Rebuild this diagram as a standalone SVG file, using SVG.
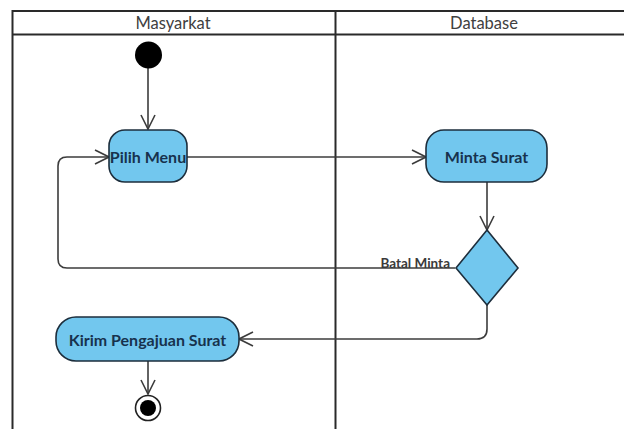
<svg xmlns="http://www.w3.org/2000/svg" width="624" height="429" viewBox="0 0 624 429">
<style>
.lane{stroke:#2a2a2a;stroke-width:2;fill:none}
.hdr{font-family:Lato,"Carlito","Liberation Sans",sans-serif;font-size:16.5px;fill:#404040;text-anchor:middle}
.act{fill:#72c7ee;stroke:#1d2e3c;stroke-width:1.6}
.lbl{font-family:Lato,"Liberation Sans",sans-serif;font-size:16px;font-weight:bold;fill:#17324d;text-anchor:middle}
.edge{fill:none;stroke:#3c3c3c;stroke-width:1.6}
.guard{font-family:Lato,"Liberation Sans",sans-serif;font-size:13.5px;font-weight:bold;fill:#3a3a3a;text-anchor:end}
</style>
<defs>
<marker id="arr" viewBox="0 0 16 16" refX="15" refY="8" markerWidth="16" markerHeight="16" markerUnits="userSpaceOnUse" orient="auto">
<path d="M1,1 L15,8 L1,15" fill="none" stroke="#3c3c3c" stroke-width="1.6"/>
</marker>
</defs>
<rect width="624" height="429" fill="#ffffff"/>
<g id="swimlanes">
<line class="lane" x1="12" y1="11" x2="624" y2="11" stroke="#555"/>
<line class="lane" x1="12" y1="34.5" x2="624" y2="34.5" stroke-width="2.5"/>
<line class="lane" x1="12.5" y1="10" x2="12.5" y2="429"/>
<line class="lane" x1="335.5" y1="10" x2="335.5" y2="429" stroke-width="2.5"/>
<text class="hdr" x="173" y="29">Masyarkat</text>
<text class="hdr" x="484" y="29">Database</text>
</g>
<g id="connectors">
<path class="edge" d="M148,68 V129" marker-end="url(#arr)"/>
<path class="edge" d="M187,157 H426" marker-end="url(#arr)"/>
<path class="edge" d="M487,182 V230" marker-end="url(#arr)"/>
<path class="edge" d="M455,268 H67 Q58,268 58,259 V166 Q58,157 67,157 H109" stroke="#555" marker-end="url(#arr)"/>
<path class="edge" d="M487,305 V329 Q487,339 477,339 H239" stroke="#555" marker-end="url(#arr)"/>
<path class="edge" d="M148,361 V394" marker-end="url(#arr)"/>
<text class="guard" x="450" y="268">Batal Minta</text>
</g>
<g id="start"><circle cx="148.5" cy="55" r="13.5" fill="#000"/></g>
<g id="pilih-menu">
<rect class="act" x="109" y="130" width="78" height="52" rx="16"/>
<text class="lbl" x="148" y="162.5">Pilih Menu</text>
</g>
<g id="minta-surat">
<rect class="act" x="426" y="130" width="121" height="52" rx="18"/>
<text class="lbl" x="486.5" y="162.5">Minta Surat</text>
</g>
<g id="decision">
<polygon class="act" points="487,230 518,268 487,305 456,268"/>
</g>
<g id="kirim">
<rect class="act" x="56" y="317" width="183" height="44" rx="20"/>
<text class="lbl" x="147.5" y="345.5">Kirim Pengajuan Surat</text>
</g>
<g id="end">
<circle cx="148" cy="408" r="12.5" fill="#fff" stroke="#222" stroke-width="1.6"/>
<circle cx="148" cy="408" r="8" fill="#000"/>
</g>
</svg>
